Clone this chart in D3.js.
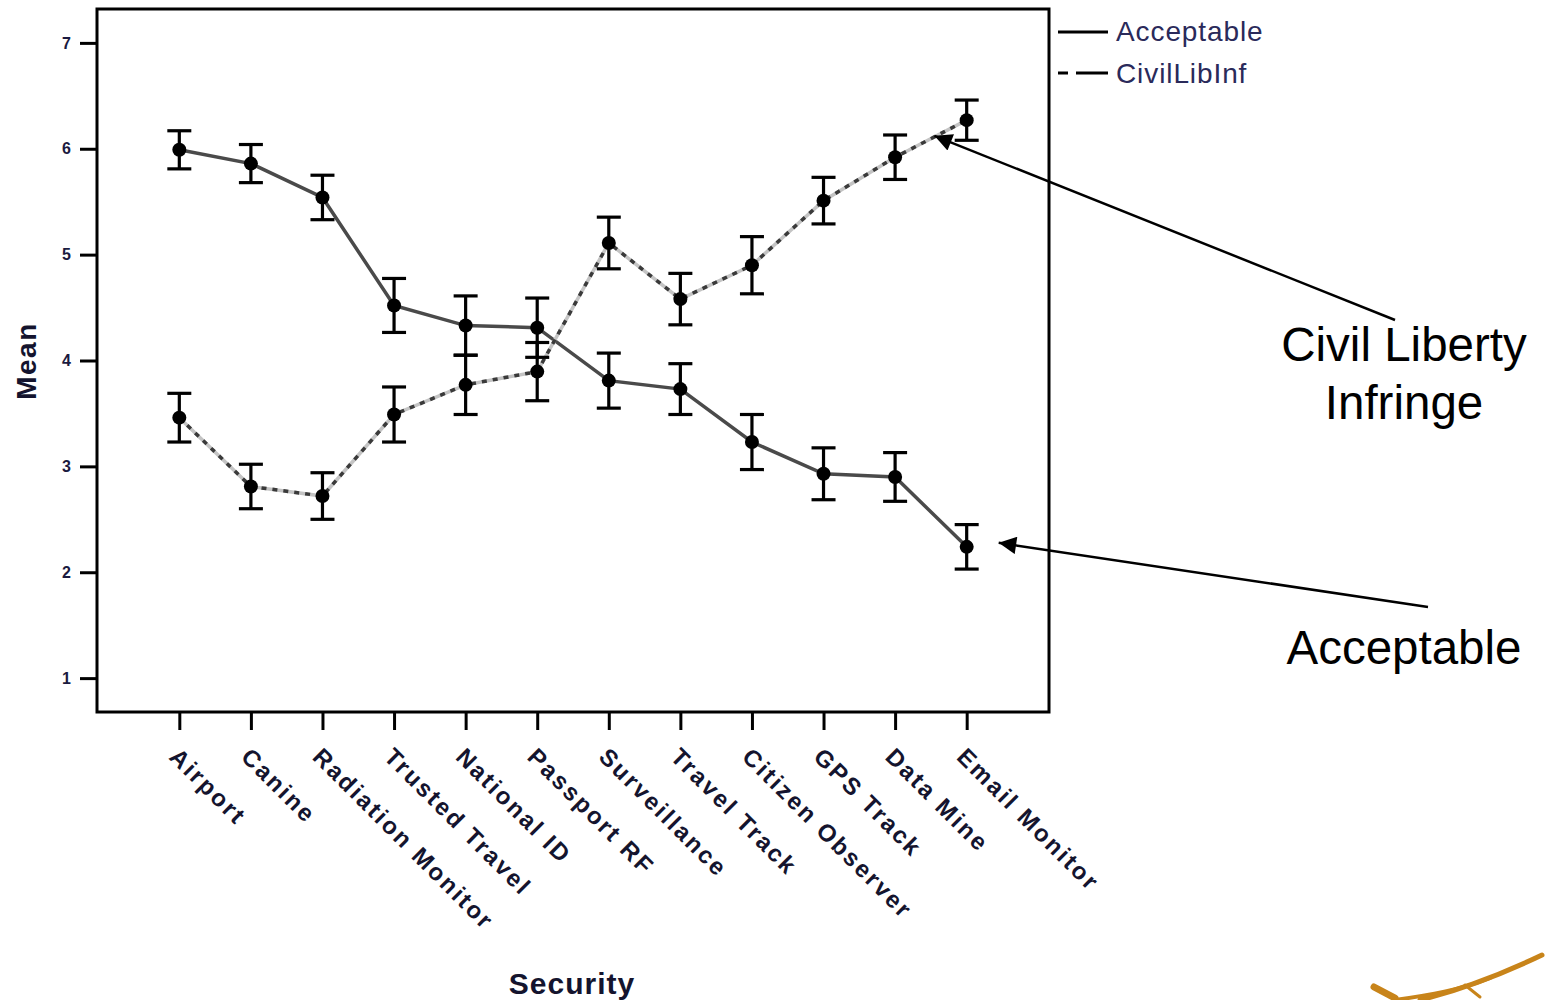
<!DOCTYPE html>
<html><head><meta charset="utf-8">
<script src="https://cdn.jsdelivr.net/npm/d3@7"></script>
<style>
html,body{margin:0;padding:0;background:#fff;}
svg{display:block;font-family:"Liberation Sans",Arial,sans-serif;}
</style></head>
<body>
<svg id="chart" width="1547" height="1000"></svg>
<script>
const categories = ["Airport","Canine","Radiation Monitor","Trusted Travel","National ID","Passport RF","Surveillance","Travel Track","Citizen Observer","GPS Track","Data Mine","Email Monitor"];
const acceptableMean = [5.99,5.86,5.54,4.52,4.33,4.31,3.81,3.73,3.23,2.93,2.90,2.24];
const acceptableErr  = [0.18,0.18,0.21,0.255,0.28,0.28,0.26,0.24,0.26,0.245,0.23,0.21];
const civilMean = [3.46,2.81,2.72,3.49,3.77,3.895,5.11,4.58,4.90,5.51,5.92,6.27];
const civilErr  = [0.23,0.21,0.22,0.26,0.28,0.275,0.244,0.243,0.27,0.22,0.21,0.19];
const yTicks = [1,2,3,4,5,6,7];
const legendLabels = ["Acceptable","CivilLibInf"];

const svg = d3.select("#chart");
const x = d3.scalePoint().domain(categories).range([97,1049]).padding(1.15);
const y = d3.scaleLinear().domain([0.68,7.32]).range([712,9]);

// frame
svg.append("rect").attr("x",97).attr("y",9).attr("width",952).attr("height",703)
  .attr("fill","none").attr("stroke","#000").attr("stroke-width",3);

// y axis
const ya = svg.append("g").attr("transform","translate(97,0)")
  .call(d3.axisLeft(y).tickValues(yTicks).tickSize(17).tickPadding(9).tickFormat(d3.format("d")));
ya.select(".domain").remove();
ya.selectAll(".tick line").attr("stroke","#000").attr("stroke-width",3);
ya.selectAll(".tick text").attr("font-size",16).attr("font-weight","bold").attr("fill","#1a1a40");

// x axis
const xa = svg.append("g").attr("transform","translate(0,712)")
  .call(d3.axisBottom(x).tickSize(18).tickFormat(""));
xa.select(".domain").remove();
xa.selectAll(".tick line").attr("stroke","#000").attr("stroke-width",3);
svg.append("g").selectAll("text").data(categories).join("text")
  .attr("transform",d=>`translate(${x(d)+1},746) rotate(45)`)
  .attr("dy","0.72em").attr("text-anchor","start")
  .attr("font-size",24).attr("font-weight","bold").attr("letter-spacing",2.4).attr("fill","#14142e")
  .text(d=>d);

// axis titles
svg.append("text").attr("transform","translate(36,361) rotate(-90)").attr("text-anchor","middle")
  .attr("font-size",28).attr("font-weight","bold").attr("letter-spacing",1.5).attr("fill","#14142e").text("Mean");
svg.append("text").attr("x",572).attr("y",994).attr("text-anchor","middle")
  .attr("font-size",30).attr("font-weight","bold").attr("letter-spacing",1).attr("fill","#14142e").text("Security");

const accData = categories.map((c,i)=>({c,m:acceptableMean[i],e:acceptableErr[i]}));
const civData = categories.map((c,i)=>({c,m:civilMean[i],e:civilErr[i]}));
const line = d3.line().x(d=>x(d.c)).y(d=>y(d.m));

// lines
svg.append("path").datum(accData).attr("d",line).attr("fill","none")
  .attr("stroke","#4a4a4a").attr("stroke-width",3.5);
svg.append("path").datum(civData).attr("d",line).attr("fill","none")
  .attr("stroke","#c4c4c4").attr("stroke-width",3.5);
svg.append("path").datum(civData).attr("d",line).attr("fill","none")
  .attr("stroke","#3a3a3a").attr("stroke-width",3.5).attr("stroke-dasharray","5,6");

// error bars + points
function drawSeries(data){
  const g = svg.append("g");
  const eb = g.selectAll("g").data(data).join("g");
  eb.append("line").attr("x1",d=>x(d.c)).attr("x2",d=>x(d.c))
    .attr("y1",d=>y(d.m+d.e)).attr("y2",d=>y(d.m-d.e)).attr("stroke","#000").attr("stroke-width",3.2);
  eb.append("line").attr("x1",d=>x(d.c)-12).attr("x2",d=>x(d.c)+12)
    .attr("y1",d=>y(d.m+d.e)).attr("y2",d=>y(d.m+d.e)).attr("stroke","#000").attr("stroke-width",3.2);
  eb.append("line").attr("x1",d=>x(d.c)-12).attr("x2",d=>x(d.c)+12)
    .attr("y1",d=>y(d.m-d.e)).attr("y2",d=>y(d.m-d.e)).attr("stroke","#000").attr("stroke-width",3.2);
  eb.append("circle").attr("cx",d=>x(d.c)).attr("cy",d=>y(d.m)).attr("r",7).attr("fill","#000");
}
drawSeries(accData);
drawSeries(civData);

// legend
const leg = svg.append("g");
leg.append("line").attr("x1",1058).attr("x2",1108).attr("y1",32).attr("y2",32).attr("stroke","#000").attr("stroke-width",3);
leg.append("line").attr("x1",1058).attr("x2",1108).attr("y1",73).attr("y2",73).attr("stroke","#000").attr("stroke-width",3)
  .attr("stroke-dasharray","10,8,32,0");
leg.selectAll("text").data(legendLabels).join("text")
  .attr("x",1116).attr("y",(d,i)=>31+i*42).attr("dy","0.36em")
  .attr("font-size",28).attr("letter-spacing",0.9).attr("fill","#2a2a5a").text(d=>d);

// annotations
const defs = svg.append("defs");
defs.append("marker").attr("id","ah").attr("viewBox","0 0 10 10").attr("refX",10).attr("refY",5)
  .attr("markerWidth",9).attr("markerHeight",7).attr("markerUnits","strokeWidth").attr("orient","auto")
  .append("path").attr("d","M0,0 L10,5 L0,10 z").attr("fill","#000");

const iDM = categories.indexOf("Data Mine"), iEM = categories.indexOf("Email Monitor");
const tip1 = [x(categories[iDM]) + 0.55*(x(categories[iEM])-x(categories[iDM])),
              y(civilMean[iDM] + 0.55*(civilMean[iEM]-civilMean[iDM])) - 1];
const tip2 = [x(categories[iEM]) + 32, y(acceptableMean[iEM]) - 4];
svg.append("line").attr("x1",1395).attr("y1",320).attr("x2",tip1[0]).attr("y2",tip1[1])
  .attr("stroke","#000").attr("stroke-width",2.5).attr("marker-end","url(#ah)");
svg.append("line").attr("x1",1428).attr("y1",607).attr("x2",tip2[0]).attr("y2",tip2[1])
  .attr("stroke","#000").attr("stroke-width",2.5).attr("marker-end","url(#ah)");

svg.append("text").attr("x",1404).attr("y",361).attr("text-anchor","middle").attr("font-size",47.5).attr("fill","#000").text("Civil Liberty");
svg.append("text").attr("x",1404).attr("y",419).attr("text-anchor","middle").attr("font-size",47.5).attr("fill","#000").text("Infringe");
svg.append("text").attr("x",1404).attr("y",664).attr("text-anchor","middle").attr("font-size",47.5).attr("fill","#000").text("Acceptable");

// logo fragment
const logo = svg.append("g").attr("fill","none").attr("stroke","#c8841a").attr("stroke-linecap","round");
logo.append("path").attr("d","M1542,955 C1500,975 1460,990 1420,1000").attr("stroke-width",5);
logo.append("path").attr("d","M1374,987 L1395,998").attr("stroke-width",7);
logo.append("path").attr("d","M1395,1000 C1430,995 1460,990 1490,978").attr("stroke-width",4);
logo.append("path").attr("d","M1465,985 L1480,997").attr("stroke-width",3);
</script>
</body></html>
